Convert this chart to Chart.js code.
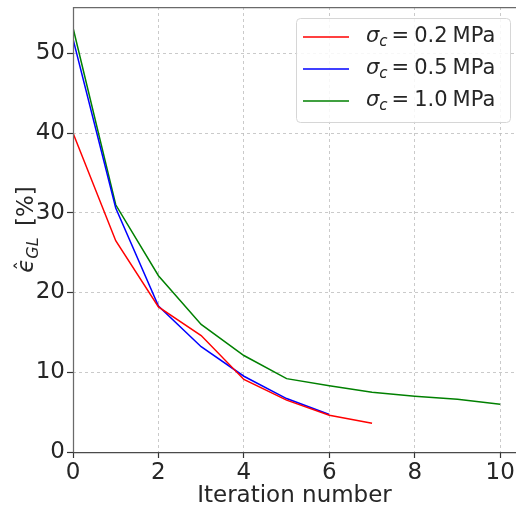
<!DOCTYPE html>
<html>
<head>
<meta charset="utf-8">
<script src="https://cdn.jsdelivr.net/npm/chart.js@4"></script>
<style>
  html, body { margin: 0; padding: 0; background: #fff; }
  #wrap { width: 517px; height: 507px; position: relative; }
</style>
</head>
<body>
<div id="wrap"><canvas id="chart" width="517" height="507"></canvas></div>
<script>
// iteration index shared by all runs
const iterations = [0, 1, 2, 3, 4, 5, 6, 7, 8, 9, 10];

// relative error per iteration (%)
const err02 = [40.0, 26.5, 18.2, 14.6, 9.1, 6.5, 4.6, 3.6];
const err05 = [51.8, 30.6, 18.3, 13.2, 9.5, 6.7, 4.7];
const err10 = [53.2, 31.0, 22.1, 16.0, 12.1, 9.2, 8.3, 7.5, 7.0, 6.6, 6.0];

const stressLabels = ["0.2", "0.5", "1.0"];
const lineColors = ["#ff0000", "#0000ff", "#008000"];

const xTicks = [0, 2, 4, 6, 8, 10];
const yTicks = [0, 10, 20, 30, 40, 50];

const textColor = "#262626";
const FONT = "'DejaVu Sans', sans-serif";

function toPoints(vals) {
    return vals.map((v, i) => ({ x: iterations[i], y: v }));
}

function drawSigmaLabel(ctx, x, y, value) {
    // σ_c = value MPa, math-style
    ctx.textBaseline = "middle";
    ctx.textAlign = "left";
    ctx.font = "oblique 21px " + FONT;
    ctx.fillText("σ", x, y);
    x += ctx.measureText("σ").width;
    ctx.font = "oblique 15px " + FONT;
    ctx.fillText("c", x, y + 5);
    x += ctx.measureText("c").width + 4;
    ctx.font = "21px " + FONT;
    ctx.fillText("=", x, y);
    x += ctx.measureText("=").width + 5;
    ctx.fillText(value, x, y);
    x += ctx.measureText(value).width + 5;
    ctx.fillText("MPa", x, y);
}

const decorPlugin = {
    id: "decor",
    afterDraw(chart) {
        const ctx = chart.ctx;
        const a = chart.chartArea;
        ctx.save();

        // spines: top, left, bottom
        ctx.lineWidth = 1.25;
        ctx.strokeStyle = "#6a6a6a";
        ctx.beginPath();
        ctx.moveTo(a.left, a.top + 0.5);
        ctx.lineTo(a.right, a.top + 0.5);
        ctx.moveTo(a.left + 0.5, a.top);
        ctx.lineTo(a.left + 0.5, a.bottom);
        ctx.stroke();
        ctx.strokeStyle = "#4a4a4a";
        ctx.beginPath();
        ctx.moveTo(a.left, a.bottom + 0.5);
        ctx.lineTo(a.right, a.bottom + 0.5);
        ctx.stroke();

        // x axis title
        ctx.fillStyle = textColor;
        ctx.font = "23px " + FONT;
        ctx.textAlign = "center";
        ctx.textBaseline = "alphabetic";
        ctx.fillText("Iteration number", (a.left + a.right) / 2, 502);

        // y axis title: \hat{\epsilon}_{GL} [%]
        ctx.translate(33, (a.top + a.bottom) / 2);
        ctx.rotate(-Math.PI / 2);
        ctx.textAlign = "left";
        ctx.font = "oblique 23px " + FONT;
        const wEps = ctx.measureText("ϵ").width;
        ctx.font = "oblique 16px " + FONT;
        const wSub = ctx.measureText("GL").width;
        ctx.font = "23px " + FONT;
        const wRest = ctx.measureText(" [%]").width;
        let x = -(wEps + wSub + 4 + wRest) / 2;
        ctx.font = "oblique 23px " + FONT;
        ctx.fillText("ϵ", x, 0);
        ctx.font = "20px " + FONT;
        ctx.fillText("ˆ", x + 2, -4);
        x += wEps;
        ctx.font = "oblique 16px " + FONT;
        ctx.fillText("GL", x, 5);
        x += wSub + 4;
        ctx.font = "23px " + FONT;
        ctx.fillText(" [%]", x, 0);
        ctx.setTransform(1, 0, 0, 1, 0, 0);

        // legend box
        const bx = 296, by = 18, bw = 214, bh = 104;
        ctx.fillStyle = "rgba(255,255,255,0.85)";
        ctx.strokeStyle = "#d6d6d6";
        ctx.lineWidth = 1;
        ctx.beginPath();
        ctx.roundRect(bx + 0.5, by + 0.5, bw, bh, 4);
        ctx.fill();
        ctx.stroke();

        const rows = [37, 69, 101];
        rows.forEach((ry, i) => {
            ctx.strokeStyle = lineColors[i];
            ctx.lineWidth = 1.5;
            ctx.beginPath();
            ctx.moveTo(303, ry);
            ctx.lineTo(349, ry);
            ctx.stroke();
            ctx.fillStyle = textColor;
            drawSigmaLabel(ctx, 366, ry, stressLabels[i]);
        });

        ctx.restore();
    },
};

const gridOpts = {
    color: "#bdbdbd",
    lineWidth: 0.8,
    tickLength: 6,
    tickColor: "#333",
    tickBorderDash: [],
    tickWidth: 1.2,
};

new Chart(document.getElementById("chart"), {
    type: "line",
    data: {
        datasets: [err02, err05, err10].map((vals, i) => ({
            label: "σc = " + stressLabels[i] + " MPa",
            data: toPoints(vals),
            borderColor: lineColors[i],
            backgroundColor: lineColors[i],
            borderWidth: 1.5,
            pointRadius: 0,
            tension: 0,
            fill: false,
        })),
    },
    plugins: [decorPlugin],
    options: {
        responsive: false,
        animation: false,
        devicePixelRatio: 1,
        layout: { padding: { left: 0, right: 1, top: 7, bottom: 0 } },
        plugins: {
            legend: { display: false },
            tooltip: { enabled: false },
        },
        scales: {
            x: {
                type: "linear",
                min: 0,
                max: 10.37,
                afterBuildTicks: (s) => { s.ticks = xTicks.map((v) => ({ value: v })); },
                afterFit: (s) => { s.height = 55; s.paddingLeft = 0; s.paddingRight = 0; },
                grid: gridOpts,
                border: { display: false, dash: [3, 3] },
                ticks: {
                    color: textColor,
                    font: { family: FONT, size: 23 },
                    padding: 1,
                    maxRotation: 0,
                },
            },
            y: {
                type: "linear",
                min: 0,
                max: 55.8,
                afterBuildTicks: (s) => { s.ticks = yTicks.map((v) => ({ value: v })); },
                afterFit: (s) => { s.width = 73; s.paddingTop = 0; s.paddingBottom = 0; },
                grid: gridOpts,
                border: { display: false, dash: [3, 3] },
                ticks: {
                    color: textColor,
                    font: { family: FONT, size: 23 },
                    padding: 2,
                },
            },
        },
    },
});
</script>
</body>
</html>
